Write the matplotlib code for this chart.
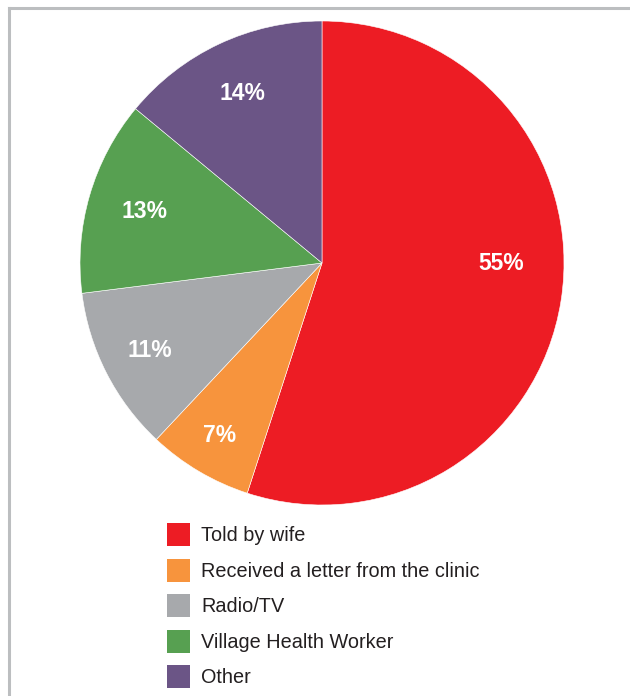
import numpy as np
import matplotlib.pyplot as plt
from matplotlib.lines import Line2D
from matplotlib.patches import Patch

# data
categories = ["Told by wife", "Received a letter from the clinic", "Radio/TV",
              "Village Health Worker", "Other"]
shares = [55, 7, 11, 13, 14]
colors = ["#ED1C24", "#F7943D", "#A7A9AC", "#57A051", "#6B5586"]

plt.rcParams["font.family"] = ["Liberation Sans", "DejaVu Sans"]

fig = plt.figure(figsize=(6.3, 6.96), dpi=100)
W, H = 630, 696

# pie centre (322, 263) px, radius 242 px
cx, cy, r = 322, 263, 242
ax = fig.add_axes([(cx - r) / W, (H - cy - r) / H, 2 * r / W, 2 * r / H])

wedges, texts = ax.pie(
    shares, colors=colors, startangle=90, counterclock=False,
    wedgeprops=dict(edgecolor="white", linewidth=0.4),
)

# percentage labels: radial distance per slice, big slice label level with centre
label_dist = [0.74, 0.83, 0.80, 0.765, 0.775]
for w, pct, d in zip(wedges, shares, label_dist):
    ang = np.deg2rad((w.theta1 + w.theta2) / 2)
    if pct == max(shares):
        ang = 0.0
    ax.text(d * np.cos(ang), d * np.sin(ang), f"{pct}%", color="white",
            fontsize=16.5, fontweight="bold", ha="center", va="center")

ax.set_xlim(-1, 1)
ax.set_ylim(-1, 1)
ax.set_aspect("equal")
ax.axis("off")

# legend
handles = [Patch(facecolor=c, edgecolor="none") for c in colors]
fig.legend(handles, categories, loc="upper left",
           bbox_to_anchor=(167 / W, 1 - 523 / H), frameon=False,
           fontsize=14.3, handlelength=1.16, handleheight=1.41,
           handletextpad=0.55, labelspacing=0.63, borderpad=0,
           borderaxespad=0, labelcolor="#231F20")

# grey frame (top and left edges only)
frame_col = "#BCBEC0"
fig.add_artist(Line2D([9 / W, 1], [1 - 8 / H, 1 - 8 / H], color=frame_col, lw=2.2))
fig.add_artist(Line2D([9 / W, 9 / W], [0, 1 - 8 / H], color=frame_col, lw=2.2))

fig.savefig("out.png", dpi=100)
